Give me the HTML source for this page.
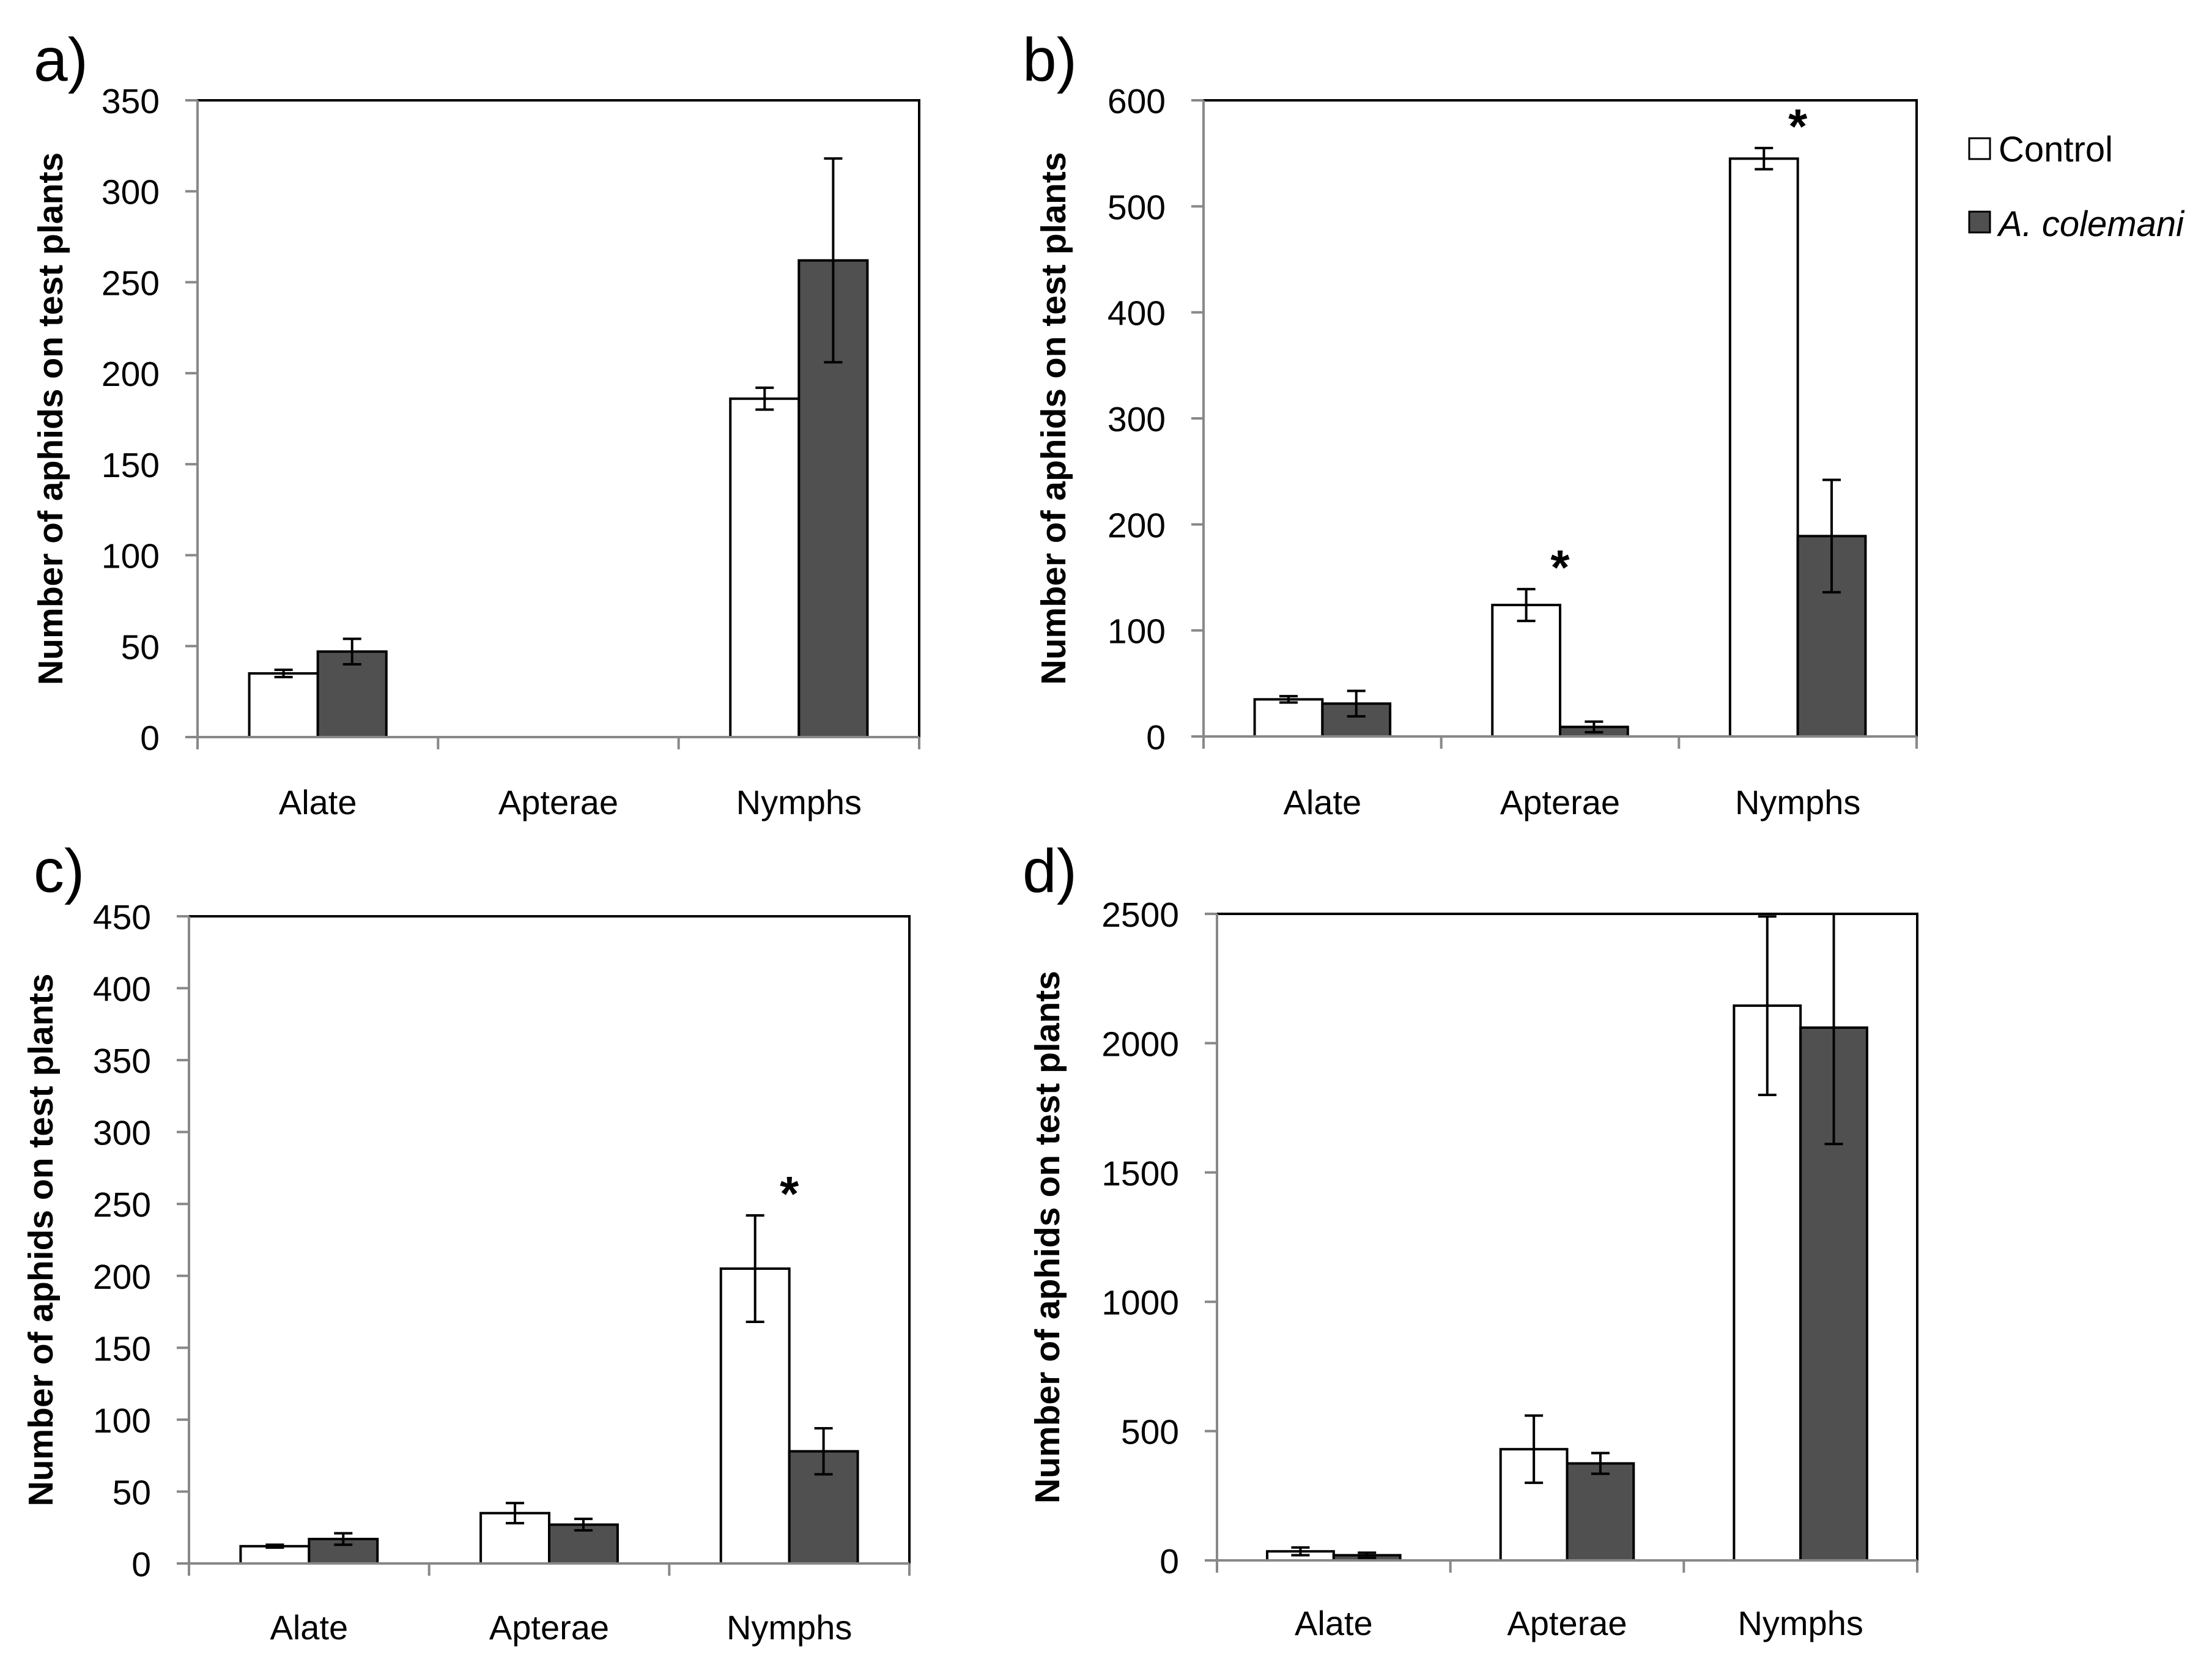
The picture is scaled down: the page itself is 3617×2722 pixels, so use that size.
<!DOCTYPE html>
<html><head><meta charset="utf-8"><style>
html,body{margin:0;padding:0;background:#fff;}
svg{display:block;font-family:"Liberation Sans",sans-serif;}
</style></head><body>
<svg id="fig" width="3617" height="2722" viewBox="0 0 3617 2722" xmlns="http://www.w3.org/2000/svg">
  <g>
    <rect x="3220" y="226" width="34" height="34" fill="#fff" stroke="#000" stroke-width="3"/>
    <text x="3268" y="264" font-size="58">Control</text>
    <rect x="3220" y="346" width="34" height="34" fill="#505050" stroke="#000" stroke-width="3"/>
    <text x="3268" y="386" font-size="58" font-style="italic">A. colemani</text>
  </g>
</svg>
<script>
const categories = ["Alate","Apterae","Nymphs"];
const aControl = [35, 0, 186];
const aControlErr = [2, 0, 6];
const aColemani = [47, 0, 262];
const aColemaniErr = [7, 0, 56];
const aTicks = [0,50,100,150,200,250,300,350];
const aStars = [false,false,false];

const bControl = [35, 124, 545];
const bControlErr = [3, 15, 10];
const bColemani = [31, 9, 189];
const bColemaniErr = [12, 5, 53];
const bTicks = [0,100,200,300,400,500,600];
const bStars = [false,true,true];

const cControl = [12, 35, 205];
const cControlErr = [1, 7, 37];
const cColemani = [17, 27, 78];
const cColemaniErr = [4, 4, 16];
const cTicks = [0,50,100,150,200,250,300,350,400,450];
const cStars = [false,false,true];

const dControl = [35, 430, 2145];
const dControlErr = [15, 130, 345];
const dColemani = [20, 375, 2060];
const dColemaniErr = [10, 40, 450];
const dTicks = [0,500,1000,1500,2000,2500];
const dStars = [false,false,false];

const NS = "http://www.w3.org/2000/svg";
const svg = document.getElementById("fig");
function mk(tag, attrs, parent){
  const e = document.createElementNS(NS, tag);
  for (const k in attrs) e.setAttribute(k, attrs[k]);
  parent.appendChild(e);
  return e;
}

const panels = [
  {id:"a", L:323, R:1503, T:164, B:1205, ctrl:aControl, ctrlE:aControlErr, col:aColemani, colE:aColemaniErr, ticks:aTicks, stars:aStars, lx:55, ly:132, tx:82, catY:1331},
  {id:"b", L:1968, R:3134, T:164, B:1204, ctrl:bControl, ctrlE:bControlErr, col:bColemani, colE:bColemaniErr, ticks:bTicks, stars:bStars, lx:1672, ly:132, tx:1722, catY:1331},
  {id:"c", L:309, R:1487, T:1498, B:2556, ctrl:cControl, ctrlE:cControlErr, col:cColemani, colE:cColemaniErr, ticks:cTicks, stars:cStars, lx:55, ly:1458, tx:66, catY:2680},
  {id:"d", L:1990, R:3135, T:1494, B:2551, ctrl:dControl, ctrlE:dControlErr, col:dColemani, colE:dColemaniErr, ticks:dTicks, stars:dStars, lx:1672, ly:1458, tx:1712, catY:2673}
];

panels.forEach(p => {
  const g = mk("g", {}, svg);
  
  
  const maxV = p.ticks[p.ticks.length-1];
  const y = v => p.B - (Math.min(v, maxV) / maxV) * (p.B - p.T);
  const catW = (p.R - p.L) / categories.length;
  const barW = catW * 0.285;

  const lab = mk("text", {x:p.lx, y:p.ly, "font-size":100}, g);
  lab.textContent = p.id + ")";
  
  

  const border = mk("path", {d:`M${p.L},${p.T} H${p.R} V${p.B}`, fill:"none", stroke:"#000", "stroke-width":4}, g);
  
  

  const yax = mk("line", {x1:p.L, y1:p.T, x2:p.L, y2:p.B, stroke:"#888", "stroke-width":4}, g);
  
  
  p.ticks.forEach(t => {
    const ty = y(t);
    const tk = mk("line", {x1:p.L-20, y1:ty, x2:p.L, y2:ty, stroke:"#888", "stroke-width":4}, g);
    
    
    const tl = mk("text", {x:p.L-62, y:ty+21, "font-size":57, "text-anchor":"end"}, g);
    tl.textContent = t;
    
    
  });

  const title = mk("text", {x:0, y:0, "font-size":57, "font-weight":"bold", "text-anchor":"middle",
    transform:`translate(${p.tx + 20},${(p.T+p.B)/2}) rotate(-90)`}, g);
  title.textContent = "Number of aphids on test plants";
  
  

  categories.forEach((c, i) => {
    const cx = p.L + catW * (i + 0.5);
    const series = [[p.ctrl[i], p.ctrlE[i], "#fff", cx - barW], [p.col[i], p.colE[i], "#505050", cx]];
    series.forEach((s, si) => {
      const [v, e, fill, x0] = s;
      const yt = y(v);
      if (v > 0) {
        const r = mk("rect", {x:x0, y:yt, width:barW, height:p.B - yt, fill:fill, stroke:"#000", "stroke-width":4}, g);
        
        
      }
      if (e > 0) {
        const ex = x0 + barW / 2;
        const hi = y(v + e), lo = y(v - e);
        const eb = mk("path", {d:`M${ex},${hi} V${lo} M${ex-15},${hi} H${ex+15} M${ex-15},${lo} H${ex+15}`, fill:"none", stroke:"#000", "stroke-width":4}, g);
        
        
      }
      if (si === 0 && p.stars[i]) {
        const st = mk("text", {x:cx, y:y(v + e) - 8, "font-size":80, "font-weight":"bold", "text-anchor":"middle"}, g);
        st.textContent = "*";
        
        
      }
    });
    const cl = mk("text", {x:cx, y:p.catY, "font-size":56, "text-anchor":"middle"}, g);
    cl.textContent = c;
    
    
  });

  const xax = mk("line", {x1:p.L, y1:p.B, x2:p.R, y2:p.B, stroke:"#888", "stroke-width":4}, g);
  
  
  for (let i = 0; i <= categories.length; i++) {
    const xx = p.L + catW * i;
    const tk = mk("line", {x1:xx, y1:p.B, x2:xx, y2:p.B + 20, stroke:"#888", "stroke-width":4}, g);
    
    
  }
});
</script>
</body></html>
